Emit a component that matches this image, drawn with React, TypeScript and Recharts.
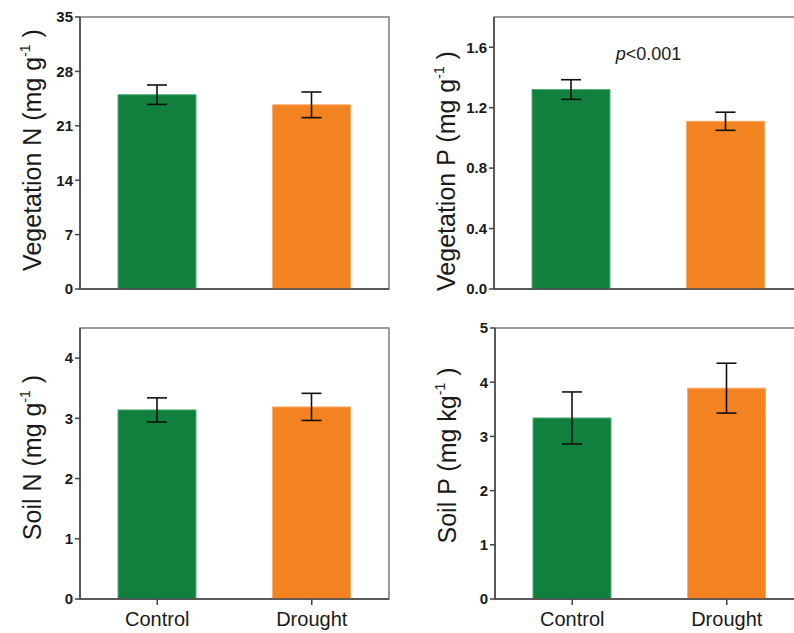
import React from 'react';
import { BarChart, Bar, XAxis, YAxis, Cell, ErrorBar, ReferenceArea, ReferenceLine, Label } from 'recharts';

const categories = ['Control', 'Drought'];
const barColors = ['#11803f', '#f38321'];
const barEdges = ['#4fae76', '#f8ad6c'];

const vegN = [25.0, 23.7];
const vegNErr = [1.25, 1.65];
const vegP = [1.32, 1.11];
const vegPErr = [0.065, 0.06];
const soilN = [3.14, 3.19];
const soilNErr = [0.2, 0.225];
const soilP = [3.34, 3.89];
const soilPErr = [0.48, 0.46];

const vegNTicks = [0, 7, 14, 21, 28, 35];
const vegPTicks = [0, 0.4, 0.8, 1.2, 1.6];
const soilNTicks = [0, 1, 2, 3, 4];
const soilPTicks = [0, 1, 2, 3, 4, 5];

const FONT = '"Liberation Sans", Arial, Helvetica, sans-serif';

const toRows = (values: number[], errs: number[]) =>
  categories.map((name, i) => ({ name, value: values[i], err: errs[i] }));

interface PanelProps {
  left: number;
  top: number;
  height: number;
  rows: { name: string; value: number; err: number }[];
  max: number;
  ticks: number[];
  decimals: number;
  label: string;
  unit: string;
  labelShift: number;
  showNames: boolean;
  note?: { text: string; y: number };
}

const AxisTitle = (label: string, unit: string, shift: number) => (props: any) => {
  const vb = props.viewBox;
  const x = vb.x + 31;
  const y = vb.y + vb.height / 2 + shift;
  return (
    <text
      x={x}
      y={y}
      transform={`rotate(-90, ${x}, ${y})`}
      textAnchor="middle"
      fontSize={25}
      fontFamily={FONT}
      fill="#1a1a1a"
    >
      <tspan>{`${label} (${unit}`}</tspan>
      <tspan dy={-11} fontSize={14}>-1</tspan>
      <tspan dy={11}>{' )'}</tspan>
    </text>
  );
};

const PNote = (text: string) => (props: any) => {
  const vb = props.viewBox;
  return (
    <text
      x={vb.x + vb.width / 2}
      y={vb.y}
      textAnchor="middle"
      dominantBaseline="central"
      fontSize={18}
      fontFamily={FONT}
      fill="#1a1a1a"
    >
      <tspan fontStyle="italic">p</tspan>
      <tspan>{text}</tspan>
    </text>
  );
};

const Panel: React.FC<PanelProps> = ({
  left, top, height, rows, max, ticks, decimals, label, unit, labelShift, showNames, note,
}) => (
  <div style={{ position: 'absolute', left, top }}>
    <BarChart
      width={400}
      height={height}
      data={rows}
      margin={{ top: height === 310 ? 17 : 18, right: 11, left: 10, bottom: 0 }}
    >
      <ReferenceArea y1={0} y2={max} fill="none" stroke="#7a7a7a" strokeWidth={1.5} ifOverflow="visible" />
      <XAxis
        dataKey="name"
        height={showNames ? 34 : 21}
        axisLine={{ stroke: '#444', strokeWidth: 1.5 }}
        tickLine={{ stroke: '#444', strokeWidth: 1.5 }}
        tickSize={6}
        tickMargin={7}
        tick={showNames ? { fill: '#1a1a1a', fontSize: 20, fontFamily: FONT } : false}
      />
      <YAxis
        width={70}
        domain={[0, max]}
        ticks={ticks}
        interval={0}
        allowDataOverflow
        axisLine={{ stroke: '#444', strokeWidth: 1.5 }}
        tickLine={{ stroke: '#444', strokeWidth: 1.5 }}
        tickSize={5}
        tickMargin={2}
        tickFormatter={(v: number) => v.toFixed(decimals)}
        tick={{ fill: '#1a1a1a', fontSize: 15, fontWeight: 'bold', fontFamily: FONT }}
      >
        <Label content={AxisTitle(label, unit, labelShift)} />
      </YAxis>
      {note && (
        <ReferenceLine y={note.y} stroke="none" label={<Label content={PNote(note.text)} />} />
      )}
      <Bar dataKey="value" barSize={78} isAnimationActive={false}>
        {rows.map((r, i) => (
          <Cell key={r.name} fill={barColors[i]} stroke={barEdges[i]} strokeWidth={1} />
        ))}
        <ErrorBar dataKey="err" width={10} stroke="#111" strokeWidth={1.6} direction="y" />
      </Bar>
    </BarChart>
  </div>
);

export default function App() {
  return (
    <div
      style={{
        position: 'absolute',
        left: 0,
        top: 0,
        width: 794,
        height: 633,
        overflow: 'hidden',
        background: '#fff',
      }}
    >
      <Panel
        left={0} top={0} height={310}
        rows={toRows(vegN, vegNErr)} max={35} ticks={vegNTicks} decimals={0}
        label="Vegetation N" unit="mg g" labelShift={-3} showNames={false}
      />
      <Panel
        left={414} top={0} height={310}
        rows={toRows(vegP, vegPErr)} max={1.8} ticks={vegPTicks} decimals={1}
        label="Vegetation P" unit="mg g" labelShift={18} showNames={false}
        note={{ text: '<0.001', y: 1.555 }}
      />
      <Panel
        left={0} top={310} height={323}
        rows={toRows(soilN, soilNErr)} max={4.5} ticks={soilNTicks} decimals={0}
        label="Soil N" unit="mg g" labelShift={-6} showNames
      />
      <Panel
        left={415} top={310} height={323}
        rows={toRows(soilP, soilPErr)} max={5} ticks={soilPTicks} decimals={0}
        label="Soil P" unit="mg kg" labelShift={-8} showNames
      />
    </div>
  );
}
